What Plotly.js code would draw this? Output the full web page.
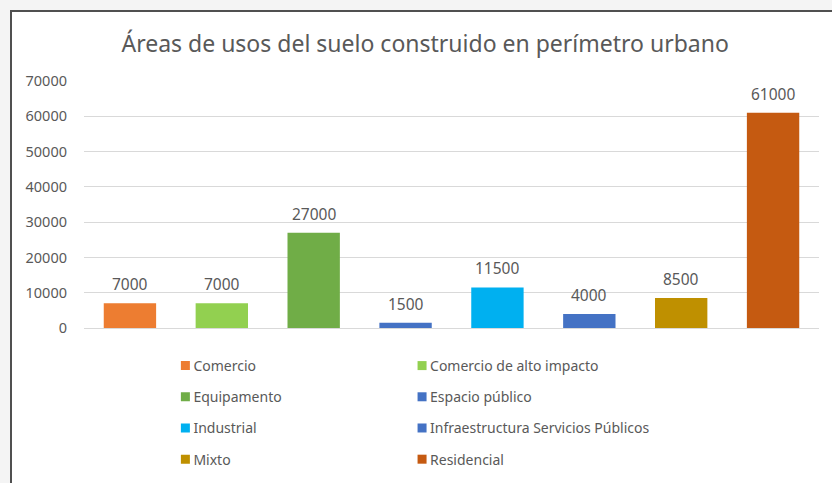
<!DOCTYPE html>
<html>
<head>
<meta charset="utf-8">
<script src="https://cdn.plot.ly/plotly-3.0.1.min.js"></script>
<style>
  html, body { margin:0; padding:0; background:#f4f4f4; width:832px; height:483px; overflow:hidden; }
  #box { position:absolute; left:10px; top:10px; width:830px; height:480px; background:#ffffff; border-left:2px solid #505050; border-top:2px solid #505050; }
  #chart { position:absolute; left:0; top:0; width:832px; height:483px; }
</style>
</head>
<body>
<div id="box"></div>
<div id="chart"></div>
<script>
const categories = ["Comercio", "Comercio de alto impacto", "Equipamento", "Espacio público", "Industrial", "Infraestructura Servicios Públicos", "Mixto", "Residencial"];
const values = [7000, 7000, 27000, 1500, 11500, 4000, 8500, 61000];
const colors = ["#ED7D31", "#92D050", "#70AD47", "#4472C4", "#00B0F0", "#4472C4", "#BF9000", "#C55A11"];
const yTicks = [0, 10000, 20000, 30000, 40000, 50000, 60000, 70000];
const chartTitle = "Áreas de usos del suelo construido en perímetro urbano";

const FONT = "Noto Sans, Open Sans, sans-serif";
const GREY = "#595959";

const traces = categories.map((c, i) => ({
  type: "bar",
  name: c,
  x: [c],
  y: [values[i]],
  marker: { color: colors[i] },
  width: 0.57,
  legend: (i % 2 === 0) ? "legend" : "legend2",
  legendgroup: "g" + i,
  hoverinfo: "x+y"
}));

const annotations = categories.map((c, i) => ({
  x: c, y: values[i], xref: "x", yref: "y",
  text: String(values[i]), showarrow: false,
  yanchor: "bottom", yshift: 6,
  font: { family: FONT, size: 15.5, color: GREY }
}));

const legendCommon = {
  orientation: "v",
  yanchor: "top",
  xanchor: "left",
  y: -0.089,
  font: { family: FONT, size: 14, color: GREY },
  tracegroupgap: 10,
  bgcolor: "rgba(0,0,0,0)",
  itemwidth: 30
};

const layout = {
  width: 832, height: 483,
  margin: { l: 83.5, r: 12.5, t: 81, b: 155, autoexpand: false },
  paper_bgcolor: "rgba(0,0,0,0)",
  plot_bgcolor: "rgba(0,0,0,0)",
  barmode: "overlay",
  title: {
    text: chartTitle,
    xref: "container", x: 0.511, xanchor: "center",
    yref: "container", y: 1 - 44/483, yanchor: "middle",
    font: { family: FONT, size: 23, color: GREY }
  },
  xaxis: {
    type: "category",
    categoryorder: "array", categoryarray: categories,
    showticklabels: false, showgrid: false, zeroline: false, showline: false,
    fixedrange: true
  },
  yaxis: {
    range: [0, 70000],
    tickvals: yTicks,
    ticktext: yTicks.map(String),
    showgrid: true, gridcolor: "#d9d9d9", gridwidth: 1,
    zeroline: true, zerolinecolor: "#d9d9d9", zerolinewidth: 1,
    showline: false, ticks: "",
    ticklabelstandoff: 16,
    tickfont: { family: FONT, size: 14.5, color: GREY },
    fixedrange: true
  },
  showlegend: true,
  legend: Object.assign({}, legendCommon, { x: 0.0944 }),
  legend2: Object.assign({}, legendCommon, { x: 0.4164 }),
  annotations: annotations
};

function compactLegend() {
  // smaller swatch, moved right next to its text
  document.querySelectorAll("#chart .legendpoints path").forEach(p => {
    p.setAttribute("d", "M16.5,4.5H7.5V-4.5H16.5Z");
  });
}

const gd = document.getElementById("chart");
Plotly.newPlot(gd, traces, layout, { displayModeBar: false, staticPlot: true }).then(() => {
  compactLegend();
  gd.on && gd.on("plotly_afterplot", compactLegend);
});
</script>
</body>
</html>
